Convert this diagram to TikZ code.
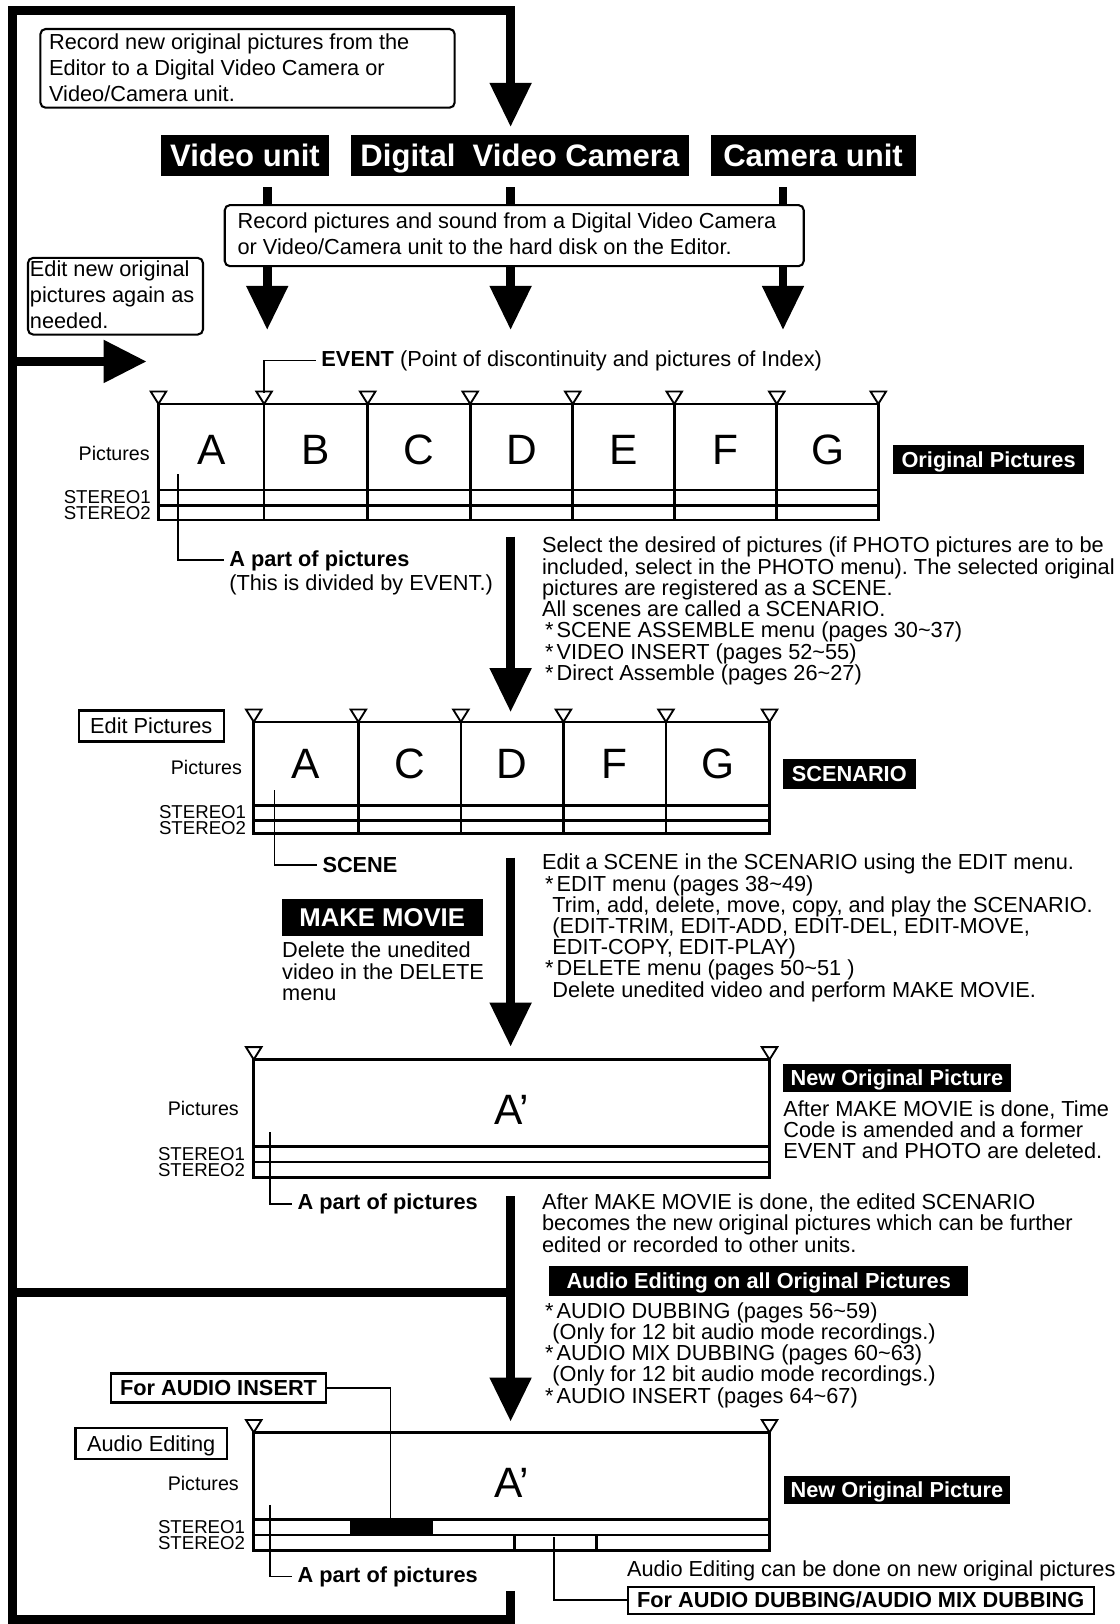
\documentclass[tikz,border=0pt]{standalone}
\usepackage{fontspec}
\setmainfont{Liberation Sans}
\usetikzlibrary{calc}
\frenchspacing
\newcommand\fBody{\fontsize{10.5}{10.25}\selectfont}
\newcommand\fBoxed{\fontsize{10.5}{12.5}\selectfont}
\newcommand\fSmall{\fontsize{9.5}{9.5}\selectfont}
\newcommand\fStereo{\fontsize{9}{9}\selectfont}
\newcommand\fBig{\fontsize{15}{15}\selectfont\bfseries}
\newcommand\fLet{\fontsize{20.5}{20.5}\selectfont}
\newcommand\fLab{\fontsize{10.5}{10.5}\selectfont\bfseries}
\newcommand\fMake{\fontsize{12.4}{12.4}\selectfont\bfseries}
\newcommand\astI{\makebox[7pt][l]{\hspace{1.5pt}*}}
\newcommand\indI{\hspace*{5pt}}
\newcommand\DnHead[2]{\fill (#1-20.5,#2-42) -- (#1+20.5,#2-42) -- (#1,#2) -- cycle;}
\newcommand\EvtMark[2]{\draw[evt] (#1-7.5,#2) -- (#1+7.5,#2) -- (#1,#2+12) -- cycle;}
\newcommand\TrackBox[6]{\draw[trk] (#1,#3) rectangle (#2,#6);
  \draw[trk] (#1,#4) -- (#2,#4) (#1,#5) -- (#2,#5);}
\begin{document}
\begin{tikzpicture}[x=0.5pt,y=-0.5pt,
  loopline/.style={line width=4.6pt, line join=miter, line cap=butt},
  mshaft/.style={line width=4.3pt},
  trk/.style={line width=1.3pt},
  lead/.style={line width=0.9pt},
  evt/.style={line width=0.9pt, fill=white, line join=miter},
  rbox/.style={draw, line width=1pt, rounded corners=2.5pt, inner sep=0pt},
  obox/.style={draw, line width=1.1pt, inner sep=0pt, text height=7.5pt, text depth=0pt},
  blab/.style={fill=black, text=white, inner sep=0pt, font=\fLab, text height=7.5pt, text depth=0pt},
  bigblab/.style={fill=black, text=white, inner sep=0pt, font=\fBig, text height=10.7pt, text depth=0pt, minimum height=20pt},
  ptxt/.style={anchor=north west, inner sep=0pt, align=left, font=\fBody},
  boxtxt/.style={anchor=north west, inner sep=0pt, align=left, font=\fBoxed},
  lbl/.style={anchor=base west, inner sep=0pt, font=\fBody},
  piclab/.style={anchor=east, inner sep=0pt, font=\fSmall},
  stlab/.style={anchor=east, inner sep=0pt, font=\fStereo, text height=6.3pt, text depth=0pt},
  bigl/.style={inner sep=0pt, font=\fLet},
]
\useasboundingbox (0,0) rectangle (1081,1568);
\fill[white] (0,0) rectangle (1081,1568);

% ---------- outer loop ----------
\draw[loopline] (493,1536) -- (493,1564) -- (12,1564) -- (12,10) -- (493,10) -- (493,81);
\DnHead{493}{122}
\draw[loopline] (12,1248) -- (493,1248);
\draw[loopline] (12,349) -- (101,349);
\fill (100,328) -- (100,370) -- (141,349) -- cycle;

% ---------- top boxes ----------
\node[rbox, minimum width=200pt, minimum height=38pt, anchor=north west] (recnew) at (38,27) {};
\node[boxtxt] (recnewt) at (47,32.2) {Record new original pictures from the\\Editor to a Digital Video Camera or\\Video/Camera unit.};

\node[bigblab, minimum width=81.5pt] (vunit) at (236.5,150) {Video unit};
\node[bigblab, minimum width=163pt] (dvc) at (502,150) {Digital\ \ Video Camera};
\node[bigblab, minimum width=99pt] (cunit) at (785,150) {Camera unit};

\node[rbox, minimum width=279.5pt, minimum height=29.5pt, anchor=north west] (recpic) at (216,197) {};
\node[boxtxt] (recpict) at (229,205.2) {Record pictures and sound from a Digital Video Camera\\or Video/Camera unit to the hard disk on the Editor.};

\foreach \x in {258,493,756}{
  \draw[mshaft] (\x,181) -- (\x,198);
  \draw[mshaft] (\x,256) -- (\x,277);
  \DnHead{\x}{318}
}

\node[rbox, minimum width=84.5pt, minimum height=37pt, anchor=north west] (editnew) at (26,248) {};
\node[boxtxt] (editnewt) at (28.5,251.2) {Edit new original\\pictures again as\\needed.};

% ---------- row 1: original pictures ----------
\foreach \x in {153,255,355,454,553,651,750,848} {\EvtMark{\x}{378}}
\TrackBox{153}{848}{390}{473}{488}{502}
\foreach \x in {255,355,454,553,651,750} {\draw[trk] (\x,390) -- (\x,502);}
\foreach \l/\x in {A/204,B/305,C/404.5,D/503.5,E/602,F/700.5,G/799}
  {\node[bigl] (ra\l) at (\x,434) {\l};}
\node[piclab] (pica) at (145,438) {Pictures};
\node[stlab] (sta1) at (146,480) {STEREO1};
\node[stlab] (sta2) at (146,495.5) {STEREO2};
\node[blab, minimum width=92.5pt, minimum height=14pt] (origp) at (954.5,444) {Original Pictures};

\node[lbl] (evtxt) at (310,353.5) {\textbf{EVENT} (Point of discontinuity and pictures of Index)};
\draw[lead] ([xshift=-2.5pt]evtxt.west) -| (255,379);

\node[lbl, font=\fLab] (aparta) at (221,546.5) {A part of pictures};
\node[lbl] (divev) at (221,570.5) {(This is divided by EVENT.)};
\draw[lead] (172,458) |- ([xshift=-2.5pt]aparta.west);

\draw[mshaft] (493,518) -- (493,646);
\DnHead{493}{687}

\node[ptxt] (pa) at (523,518.2) {Select the desired of pictures (if PHOTO pictures are to be\\
included, select in the PHOTO menu). The selected original\\
pictures are registered as a SCENE.\\
All scenes are called a SCENARIO.\\
\astI SCENE ASSEMBLE menu (pages 30\textasciitilde 37)\\
\astI VIDEO INSERT (pages 52\textasciitilde 55)\\
\astI Direct Assemble (pages 26\textasciitilde 27)};

% ---------- row 2: scenario ----------
\node[obox, font=\fBody, minimum width=70pt, minimum height=15pt] (editp) at (146,701) {Edit Pictures};
\foreach \x in {245,346,445,544,643,743} {\EvtMark{\x}{685}}
\TrackBox{245}{743}{697}{778}{792}{805}
\foreach \x in {346,445,544,643} {\draw[trk] (\x,697) -- (\x,805);}
\foreach \l/\x in {A/295.5,C/395.5,D/494.5,F/593.5,G/693}
  {\node[bigl] (rb\l) at (\x,738) {\l};}
\node[piclab] (picb) at (234,741) {Pictures};
\node[stlab] (stb1) at (238,784) {STEREO1};
\node[stlab] (stb2) at (238,799.5) {STEREO2};
\node[blab, minimum width=64pt, minimum height=14.5pt] (scen) at (820,747.5) {SCENARIO};

\node[lbl, font=\fLab] (scene) at (311,842.5) {SCENE};
\draw[lead] (265,763) |- ([xshift=-2.5pt]scene.west);

\node[blab, font=\fMake, text height=8.9pt, minimum width=97pt, minimum height=18pt] (mkmv) at (369,886) {MAKE MOVIE};
\node[ptxt] (delt) at (272,909.2) {Delete the unedited\\video in the DELETE\\menu};

\draw[mshaft] (493,828) -- (493,969);
\DnHead{493}{1010}

\node[ptxt] (pb) at (523,824.2) {Edit a SCENE in the SCENARIO using the EDIT menu.\\
\astI EDIT menu (pages 38\textasciitilde 49)\\
\indI Trim, add, delete, move, copy, and play the SCENARIO.\\
\indI (EDIT-TRIM, EDIT-ADD, EDIT-DEL, EDIT-MOVE,\\
\indI EDIT-COPY, EDIT-PLAY)\\
\astI DELETE menu (pages 50\textasciitilde 51 )\\
\indI Delete unedited video and perform MAKE MOVIE.};

% ---------- row 3: new original picture ----------
\EvtMark{245}{1011}
\EvtMark{743}{1011}
\TrackBox{245}{743}{1023}{1107}{1122}{1137}
\node[bigl] (rcA) at (494,1072) {A’};
\node[piclab] (picc) at (231,1070) {Pictures};
\node[stlab] (stc1) at (237,1114) {STEREO1};
\node[stlab] (stc2) at (237,1129.5) {STEREO2};
\node[blab, minimum width=110pt, minimum height=13.5pt] (nop) at (866,1040.5) {New Original Picture};
\node[ptxt] (nopt) at (756,1062.2) {After MAKE MOVIE is done, Time\\Code is amended and a former\\EVENT and PHOTO are deleted.};

\node[lbl, font=\fLab] (apartc) at (287,1167.5) {A part of pictures};
\draw[lead] (261,1093) |- ([xshift=-2.5pt]apartc.west);

\node[ptxt] (pc) at (523,1152.2) {After MAKE MOVIE is done, the edited SCENARIO\\
becomes the new original pictures which can be further\\
edited or recorded to other units.};

\node[blab, minimum width=202.5pt, minimum height=14.5pt] (aeall) at (732.5,1236.5) {Audio Editing on all Original Pictures};

\draw[mshaft] (493,1155) -- (493,1331);
\DnHead{493}{1372}

\node[ptxt] (pd) at (523,1257.2) {\astI AUDIO DUBBING (pages 56\textasciitilde 59)\\
\indI (Only for 12 bit audio mode recordings.)\\
\astI AUDIO MIX DUBBING (pages 60\textasciitilde 63)\\
\indI (Only for 12 bit audio mode recordings.)\\
\astI AUDIO INSERT (pages 64\textasciitilde 67)};

% ---------- row 4: audio editing ----------
\node[obox, font=\fLab, minimum width=104pt, minimum height=14pt] (fai) at (211,1340) {For AUDIO INSERT};
\node[obox, font=\fBody, minimum width=73pt, minimum height=15pt] (aed) at (146,1394) {Audio Editing};
\EvtMark{245}{1371}
\EvtMark{743}{1371}
\fill (338,1467) rectangle (418,1482);
\TrackBox{245}{743}{1383}{1467}{1482}{1497}
\draw[trk] (497,1482) -- (497,1497) (576,1482) -- (576,1497);
\node[bigl] (rdA) at (494,1432) {A’};
\node[piclab] (picd) at (231,1432) {Pictures};
\node[stlab] (std1) at (237,1474) {STEREO1};
\node[stlab] (std2) at (237,1489.5) {STEREO2};
\node[blab, minimum width=109pt, minimum height=13.5pt] (nopb) at (866,1438.5) {New Original Picture};

\draw[lead] (fai.east) -| (377,1467);

\node[lbl, font=\fLab] (apartd) at (287,1527.5) {A part of pictures};
\draw[lead] (261,1453) |- ([xshift=-2.5pt]apartd.west);

\node[lbl] (aecan) at (605,1522.5) {Audio Editing can be done on new original pictures};
\node[obox, font=\fLab, minimum width=225pt, minimum height=13pt] (fad) at (831,1545) {For AUDIO DUBBING/AUDIO MIX DUBBING};
\draw[lead] (535,1484) |- (fad.west);
\end{tikzpicture}
\end{document}
